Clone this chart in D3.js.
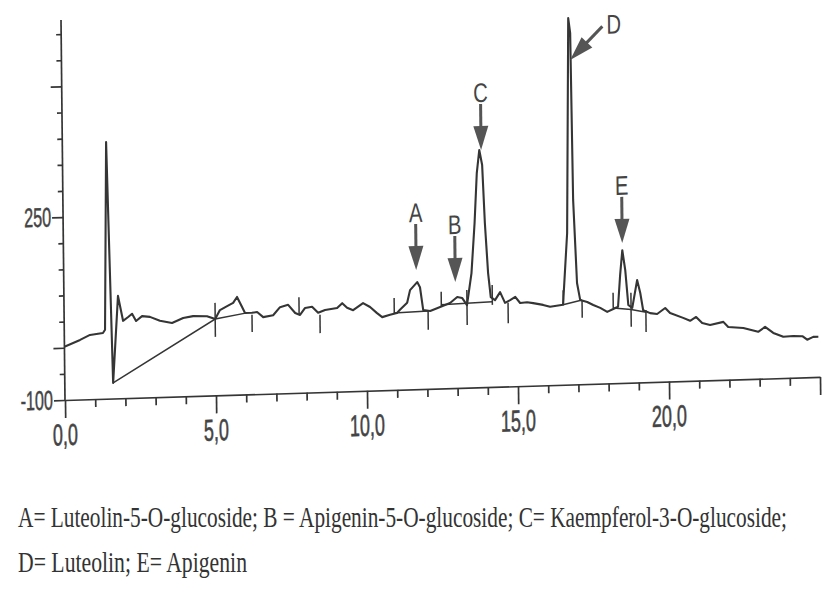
<!DOCTYPE html>
<html>
<head>
<meta charset="utf-8">
<script src="https://cdn.jsdelivr.net/npm/d3@7"></script>
<style>
  body { margin: 0; background: #fff; }
</style>
</head>
<body>
<script>
(function(){

  //retention time (min) and detector signal
  var traceTime = [0.00, 0.52, 0.85, 1.28, 1.35, 1.45, 1.60, 1.79, 1.95, 2.12, 2.25, 2.38, 2.58, 2.84, 3.17, 3.57, 3.94, 4.27, 4.73, 5.00,
    5.16, 5.40, 5.60, 5.73, 5.89, 5.99, 6.22, 6.39, 6.59, 6.92, 7.15, 7.42, 7.65, 7.81, 7.98, 8.21, 8.41, 8.64, 9.04, 9.21,
    9.37, 9.57, 9.90, 10.13, 10.36, 10.53, 10.79, 11.02, 11.12, 11.36, 11.46, 11.70, 11.79, 11.89, 12.12, 12.45, 12.78, 13.02, 13.18, 13.34,
    13.50, 13.62, 13.71, 13.80, 13.89, 13.96, 14.05, 14.13, 14.27, 14.44, 14.60, 14.77, 14.94, 15.10, 15.33, 15.53, 15.86, 16.09, 16.52, 16.68,
    16.79, 16.85, 16.89, 16.99, 17.09, 17.32, 17.52, 17.75, 17.98, 18.18, 18.34, 18.42, 18.50, 18.59, 18.68, 18.81, 18.98, 19.08, 19.17, 19.40,
    19.63, 19.90, 20.06, 20.49, 20.72, 20.92, 21.12, 21.38, 21.82, 21.98, 22.48, 22.97, 23.20, 23.47, 23.80, 24.13, 24.43, 24.59, 24.79, 24.96];
  var traceValue = [2, 14, 23, 26, 32, 391, -70, 96, 48, 55, 61, 47, 56, 54, 46, 41, 50, 53, 52, 46,
    63, 70, 76, 87, 68, 56, 56, 57, 47, 50, 65, 69, 53, 49, 62, 64, 52, 57, 60, 69,
    60, 55, 68, 60, 48, 40, 44, 47, 53, 66, 90, 105, 95, 51, 49, 56, 63, 74, 72, 58,
    119, 215, 310, 354, 325, 214, 118, 72, 66, 81, 60, 65, 71, 59, 60, 58, 54, 50, 53, 190,
    601, 572, 253, 94, 61, 57, 51, 45, 37, 42, 46, 107, 154, 116, 49, 43, 96, 71, 38, 32,
    30, 41, 31, 21, 15, 22, 10, 6, 11, 1, -2, -10, -1, -13, -21, -20, -21, -28, -23, -23];

  //integration baselines drawn by the integrator: [time, signal] pairs
  var baselines = [
    [[1.60, -70], [5.00, 46], [6.05, 56]],
    [[10.92, 47], [12.05, 49]],
    [[12.48, 60], [14.17, 63]],
    [[16.52, 53], [17.15, 61]],
    [[18.18, 44], [18.77, 40], [19.27, 34]]
  ];

  //peak start / end markers
  var markerTime = [5.00, 6.22, 7.78, 8.47, 10.93, 12.05, 12.49, 13.34, 14.18, 14.70, 16.53, 17.15, 18.18, 18.77, 19.26];
  var markerTop = [77, 52, 83, 48, 76, 49, 85, 87, 95, 60, 81, 61, 73, 72, 38];
  var markerBottom = [12, 19, 49, 13, 47, 13, 58, 20, 57, 21, 53, 27, 44, 7, -4];

  //labelled peaks (arrow tips)
  var peakLabels = ["A", "B", "C", "D", "E"];
  var peakTime = [11.67, 12.96, 13.86, 16.84, 18.50];
  var peakValue = [128, 103, 354, 521, 168];

  //axis ticks
  var xTickValues = [0, 5, 10, 15, 20];
  var xTickLabels = ["0,0", "5,0", "10,0", "15,0", "20,0"];
  var yTickValues = [250, -100];
  var yTickLabels = ["250", "-100"];

  var captionLines = [
    "A= Luteolin-5-O-glucoside; B = Apigenin-5-O-glucoside; C= Kaempferol-3-O-glucoside;",
    "D= Luteolin; E= Apigenin"
  ];

  var width = 835,
      height = 593,
      plotW = 755,
      plotH = 380,
      ink = "#353535";

  var svg = d3.select("body")
    .append("svg")
    .attr("width", width)
    .attr("height", height)
    .style("background", "#fff");

  var x = d3.scaleLinear().domain([0, 25]).range([0, plotW]);
  var y = d3.scaleLinear().domain([-100, 627]).range([plotH, 0]);

  //the scanned chart sits slightly askew, so the frame is sheared to follow it
  var g = svg.append("g")
    .attr("transform", "matrix(1,-0.0305,0.0105,1,61,20)");

  //y axis
  var yAxis = g.append("g")
    .call(d3.axisLeft(y)
      .tickValues(d3.range(-100, 601, 50))
      .tickSize(5)
      .tickSizeOuter(0)
      .tickFormat(""));
  yAxis.selectAll(".tick line")
    .attr("x2", function(d){ return (d % 250 === 0 || d === -100) ? -11 : -5; });
  yAxis.select(".domain").attr("d", "M0," + plotH + "V0");

  //x axis
  var xAxis = g.append("g")
    .attr("transform", "translate(0," + plotH + ")")
    .call(d3.axisBottom(x)
      .tickValues(d3.range(0, 26))
      .tickSize(8)
      .tickSizeOuter(0)
      .tickFormat(""));
  xAxis.selectAll(".tick line")
    .attr("y2", function(d){ return d % 5 === 0 ? 18 : 8; });

  [yAxis, xAxis].forEach(function(a){
    a.selectAll("path, line")
      .attr("stroke", ink)
      .attr("stroke-width", 1.7);
  });

  //tick labels
  g.selectAll(".xlab")
    .data(xTickValues)
    .enter()
    .append("text")
    .attr("class", "xlab")
    .attr("transform", function(d){ return "translate(" + x(d) + "," + (plotH + 45) + ") scale(0.6,1)"; })
    .attr("text-anchor", "middle")
    .attr("font-family", "Liberation Sans, Arial, sans-serif")
    .attr("font-size", 30)
    .attr("fill", "#444")
    .attr("stroke", "#444")
    .attr("stroke-width", 0.6)
    .text(function(d, i){ return xTickLabels[i]; });

  g.selectAll(".ylab")
    .data(yTickValues)
    .enter()
    .append("text")
    .attr("class", "ylab")
    .attr("transform", function(d){ return "translate(-12," + (y(d) + 9) + ") scale(0.6,1)"; })
    .attr("text-anchor", "end")
    .attr("font-family", "Liberation Sans, Arial, sans-serif")
    .attr("font-size", 27)
    .attr("fill", "#444")
    .attr("stroke", "#444")
    .attr("stroke-width", 0.5)
    .text(function(d, i){ return yTickLabels[i]; });

  var line = d3.line()
    .x(function(d){ return x(d[0]); })
    .y(function(d){ return y(d[1]); });

  //integration baselines
  g.selectAll(".baseline")
    .data(baselines)
    .enter()
    .append("path")
    .attr("class", "baseline")
    .attr("d", line)
    .attr("fill", "none")
    .attr("stroke", ink)
    .attr("stroke-width", 1.5);

  //peak markers
  g.selectAll(".marker")
    .data(markerTime)
    .enter()
    .append("line")
    .attr("class", "marker")
    .attr("x1", function(d){ return x(d); })
    .attr("x2", function(d){ return x(d); })
    .attr("y1", function(d, i){ return y(markerTop[i]); })
    .attr("y2", function(d, i){ return y(markerBottom[i]); })
    .attr("stroke", ink)
    .attr("stroke-width", 1.5);

  //chromatogram trace
  g.append("path")
    .datum(d3.zip(traceTime, traceValue))
    .attr("d", line)
    .attr("fill", "none")
    .attr("stroke", ink)
    .attr("stroke-width", 2.1)
    .attr("stroke-linejoin", "round");

  //arrows and letters
  peakLabels.forEach(function(lab, i){
    var tx = x(peakTime[i]),
        ty = y(peakValue[i]);
    //D comes in from the upper right, the others straight from above
    var dir = lab === "D" ? [Math.SQRT1_2, -Math.SQRT1_2] : [0, -1];
    var px = -dir[1], py = dir[0];
    var shaftEnd = 46, head = 24, half = 7.5;

    g.append("line")
      .attr("x1", tx + dir[0] * (head - 2))
      .attr("y1", ty + dir[1] * (head - 2))
      .attr("x2", tx + dir[0] * shaftEnd)
      .attr("y2", ty + dir[1] * shaftEnd)
      .attr("stroke", "#555")
      .attr("stroke-width", 3);

    g.append("path")
      .attr("d", "M" + tx + "," + ty +
        "L" + (tx + dir[0] * head + px * half) + "," + (ty + dir[1] * head + py * half) +
        "L" + (tx + dir[0] * head - px * half) + "," + (ty + dir[1] * head - py * half) + "Z")
      .attr("fill", "#555");

    var lx = lab === "D" ? tx + 44 : tx,
        ly = lab === "D" ? ty - 25 : ty - 48;
    g.append("text")
      .attr("transform", "translate(" + lx + "," + ly + ") scale(0.75,1)")
      .attr("text-anchor", "middle")
      .attr("font-family", "Liberation Sans, Arial, sans-serif")
      .attr("font-size", 27)
      .attr("fill", "#444")
      .text(lab);
  });

  //caption: narrow serif, stretched tall like the scan
  var captionWidths = [769, 229];
  svg.selectAll(".caption")
    .data(captionLines)
    .enter()
    .append("text")
    .attr("class", "caption")
    .attr("transform", function(d, i){ return "translate(18," + (527 + i * 45) + ") scale(1,1.3)"; })
    .attr("font-family", "Liberation Serif, Times New Roman, serif")
    .attr("font-size", 22)
    .attr("fill", "#333")
    .attr("textLength", function(d, i){ return captionWidths[i]; })
    .attr("lengthAdjust", "spacingAndGlyphs")
    .text(function(d){ return d; });

})();
</script>
</body>
</html>
